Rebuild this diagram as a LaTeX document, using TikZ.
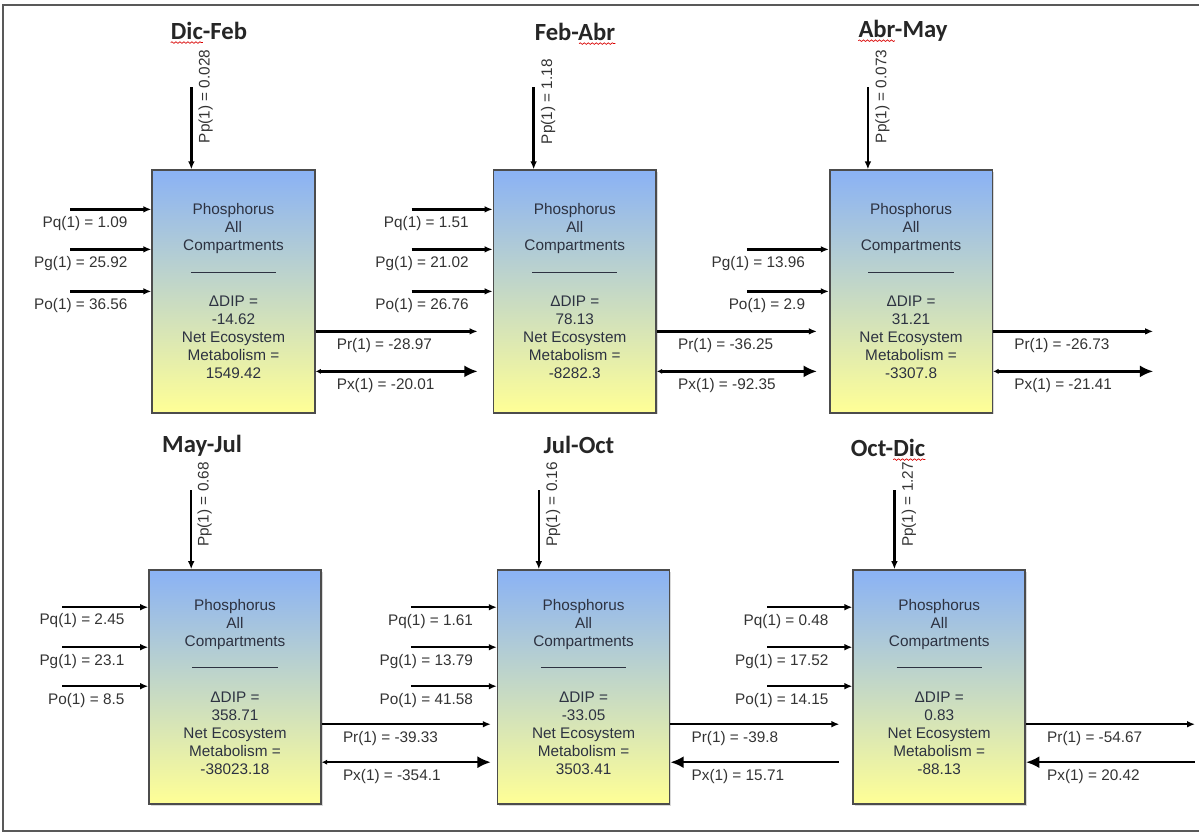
\documentclass[tikz,border=0pt]{standalone}
\usepackage{fontspec}
\setmainfont{Liberation Sans}
\newfontfamily\titlefont{Carlito}
\usetikzlibrary{positioning, arrows.meta, calc, shadows, decorations.pathmorphing}
\definecolor{boxblue}{RGB}{138,178,245}
\definecolor{boxyellow}{RGB}{255,255,150}
\definecolor{boxtext}{RGB}{45,50,65}

\begin{document}
\begin{tikzpicture}[
        x=0.75pt, y=-0.75pt,
        comp/.style  = {draw=black!70, line width=1.2pt, top color=boxblue, bottom color=boxyellow, minimum width=122pt, minimum height=182pt, align=center, inner sep=0pt, text=boxtext, font=\fontsize{11.5}{13.5}\selectfont, drop shadow={shadow xshift=1.2pt, shadow yshift=-1.2pt, opacity=0.3}},
        compb/.style = {comp, minimum width=129pt, minimum height=175.5pt},
        period/.style= {font=\titlefont\bfseries\fontsize{18.5}{20}\selectfont, inner sep=0pt, text=black!85},
        lbl/.style   = {font=\fontsize{11.5}{13.5}\selectfont, text=black!80, inner sep=0pt},
        inl/.style   = {lbl, anchor=north east, xshift=-17pt, yshift=-4.5pt},
        outl/.style  = {lbl, pos=0, anchor=north west, xshift=15pt, yshift=-4.5pt},
        ppl/.style   = {lbl, rotate=90, anchor=north west},
        arrow/.style = {-{Latex[length=6pt, width=5pt]}, line width=1.8pt},
        bigarrow/.style  = {{Latex[length=4pt, width=4pt]}-{Latex[length=10pt, width=9pt]}, line width=1.8pt},
        backarrow/.style = {{Latex[length=10pt, width=9pt]}-, line width=1.8pt},
        spell/.style = {draw=red!85!black, line width=0.5pt, decorate, decoration={snake, amplitude=0.6pt, segment length=3pt}},
        frame/.style = {draw=black!65, line width=1.2pt},
    ]
        \useasboundingbox (0,0) rectangle (1199,833);
        \draw[frame] (3,5) rectangle (1210,831);

        % Compartments, top row
        \node[comp] (df) at (233.5,291.5) {Phosphorus\\All\\Compartments\\[3pt]\rule{64pt}{0.8pt}\\[12pt]ΔDIP =\\-14.62\\Net Ecosystem\\Metabolism =\\1549.42};
        \node[comp, right=132.75pt of df] (fa) {Phosphorus\\All\\Compartments\\[3pt]\rule{64pt}{0.8pt}\\[12pt]ΔDIP =\\78.13\\Net Ecosystem\\Metabolism =\\-8282.3};
        \node[comp, right=129pt of fa] (am) {Phosphorus\\All\\Compartments\\[3pt]\rule{64pt}{0.8pt}\\[12pt]ΔDIP =\\31.21\\Net Ecosystem\\Metabolism =\\-3307.8};
        % Compartments, bottom row
        \node[compb] (mj) at (235,687) {Phosphorus\\All\\Compartments\\[3pt]\rule{64pt}{0.8pt}\\[12pt]ΔDIP =\\358.71\\Net Ecosystem\\Metabolism =\\-38023.18};
        \node[compb, right=131.25pt of mj] (jo) {Phosphorus\\All\\Compartments\\[3pt]\rule{64pt}{0.8pt}\\[12pt]ΔDIP =\\-33.05\\Net Ecosystem\\Metabolism =\\3503.41};
        \node[compb, right=136.5pt of jo] (od) {Phosphorus\\All\\Compartments\\[3pt]\rule{64pt}{0.8pt}\\[12pt]ΔDIP =\\0.83\\Net Ecosystem\\Metabolism =\\-88.13};

        % Periods
        \node[period] (tdf) at (209,31) {Dic-Feb};
        \node[period] (tfa) at (575,32) {Feb-Abr};
        \node[period] (tam) at (903,31) {Abr-May};
        \node[period] (tmj) at (202,446) {May-Jul};
        \node[period] (tjo) at (579,445) {Jul-Oct};
        \node[period] (tod) at (888,448) {Oct-Dic};
        \draw[spell] ($(tdf.base west)+(0,3)$) -- ($(tdf.base west)!0.42!(tdf.base east)+(0,3)$);
        \draw[spell] ($(tfa.base west)!0.55!(tfa.base east)+(0,3)$) -- ($(tfa.base east)+(0,3)$);
        \draw[spell] ($(tam.base west)+(0,3)$) -- ($(tam.base west)!0.41!(tam.base east)+(0,3)$);
        \draw[spell] ($(tod.base west)!0.57!(tod.base east)+(0,3)$) -- ($(tod.base east)+(0,3)$);

        % Precipitation
        \coordinate (pdf) at ($(df.north west)+(40,-82)$);
        \coordinate (pfa) at ($(fa.north west)+(41,-82)$);
        \coordinate (pam) at ($(am.north west)+(39,-82)$);
        \coordinate (pmj) at ($(mj.north west)+(43,-79)$);
        \coordinate (pjo) at ($(jo.north west)+(42,-79)$);
        \coordinate (pod) at ($(od.north west)+(42,-79)$);
        \draw[arrow] (pdf) -- (pdf |- df.north);
        \draw[arrow] (pfa) -- (pfa |- fa.north);
        \draw[arrow] (pam) -- (pam |- am.north);
        \draw[arrow] (pmj) -- (pmj |- mj.north);
        \draw[arrow] (pjo) -- (pjo |- jo.north);
        \draw[arrow] (pod) -- (pod |- od.north);
        \node[ppl] (lpdf) at ($(pdf)+(7,56)$) {Pp(1) = 0.028};
        \node[ppl] (lpfa) at ($(pfa)+(7,57)$) {Pp(1) = 1.18};
        \node[ppl] (lpam) at ($(pam)+(7,56)$) {Pp(1) = 0.073};
        \node[ppl] (lpmj) at ($(pmj)+(6,57)$) {Pp(1) = 0.68};
        \node[ppl] (lpjo) at ($(pjo)+(7,57)$) {Pp(1) = 0.16};
        \node[ppl] (lpod) at ($(pod)+(7,57)$) {Pp(1) = 1.27};

        % Inflows, top row
        \coordinate (qdf) at ($(df.north west)+(-81,40)$);
        \coordinate (gdf) at ($(df.north west)+(-81,80)$);
        \coordinate (odf) at ($(df.north west)+(-81,122)$);
        \coordinate (qfa) at ($(fa.north west)+(-81,40)$);
        \coordinate (gfa) at ($(fa.north west)+(-81,80)$);
        \coordinate (ofa) at ($(fa.north west)+(-81,122)$);
        \coordinate (gam) at ($(am.north west)+(-82,80)$);
        \coordinate (oam) at ($(am.north west)+(-82,122)$);
        \draw[arrow] (qdf) -- (qdf -| df.west) node[inl] (lqdf) {Pq(1) = 1.09};
        \draw[arrow] (gdf) -- (gdf -| df.west) node[inl] (lgdf) {Pg(1) = 25.92};
        \draw[arrow] (odf) -- (odf -| df.west) node[inl] (lodf) {Po(1) = 36.56};
        \draw[arrow] (qfa) -- (qfa -| fa.west) node[inl] (lqfa) {Pq(1) = 1.51};
        \draw[arrow] (gfa) -- (gfa -| fa.west) node[inl] (lgfa) {Pg(1) = 21.02};
        \draw[arrow] (ofa) -- (ofa -| fa.west) node[inl] (lofa) {Po(1) = 26.76};
        \draw[arrow] (gam) -- (gam -| am.west) node[inl] (lgam) {Pg(1) = 13.96};
        \draw[arrow] (oam) -- (oam -| am.west) node[inl] (loam) {Po(1) = 2.9};
        % Inflows, bottom row
        \coordinate (qmj) at ($(mj.north west)+(-86,38)$);
        \coordinate (gmj) at ($(mj.north west)+(-86,78)$);
        \coordinate (omj) at ($(mj.north west)+(-86,117)$);
        \coordinate (qjo) at ($(jo.north west)+(-86,38)$);
        \coordinate (gjo) at ($(jo.north west)+(-86,78)$);
        \coordinate (ojo) at ($(jo.north west)+(-86,117)$);
        \coordinate (qod) at ($(od.north west)+(-85,38)$);
        \coordinate (god) at ($(od.north west)+(-85,78)$);
        \coordinate (ood) at ($(od.north west)+(-85,117)$);
        \draw[arrow] (qmj) -- (qmj -| mj.west) node[inl, yshift=0.8pt] (lqmj) {Pq(1) = 2.45};
        \draw[arrow] (gmj) -- (gmj -| mj.west) node[inl] (lgmj) {Pg(1) = 23.1};
        \draw[arrow] (omj) -- (omj -| mj.west) node[inl] (lomj) {Po(1) = 8.5};
        \draw[arrow] (qjo) -- (qjo -| jo.west) node[inl] (lqjo) {Pq(1) = 1.61};
        \draw[arrow] (gjo) -- (gjo -| jo.west) node[inl] (lgjo) {Pg(1) = 13.79};
        \draw[arrow] (ojo) -- (ojo -| jo.west) node[inl] (lojo) {Po(1) = 41.58};
        \draw[arrow] (qod) -- (qod -| od.west) node[inl] (lqod) {Pq(1) = 0.48};
        \draw[arrow] (god) -- (god -| od.west) node[inl] (lgod) {Pg(1) = 17.52};
        \draw[arrow] (ood) -- (ood -| od.west) node[inl] (lood) {Po(1) = 14.15};

        % Outflows, top row
        \coordinate (rdf) at ($(df.north east)+(0,162)$);
        \coordinate (xdf) at ($(df.north east)+(0,202)$);
        \coordinate (rfa) at ($(fa.north east)+(0,162)$);
        \coordinate (xfa) at ($(fa.north east)+(0,202)$);
        \coordinate (ram) at ($(am.north east)+(0,162)$);
        \coordinate (xam) at ($(am.north east)+(0,202)$);
        \draw[arrow] (rdf) -- ($(rdf -| fa.west)+(-15,0)$) node[outl] (lrdf) {Pr(1) = -28.97};
        \draw[bigarrow] (xdf) -- ($(xdf -| fa.west)+(-15,0)$) node[outl] (lxdf) {Px(1) = -20.01};
        \draw[arrow] (rfa) -- ($(rfa -| am.west)+(-12,0)$) node[outl] (lrfa) {Pr(1) = -36.25};
        \draw[bigarrow] (xfa) -- ($(xfa -| am.west)+(-12,0)$) node[outl] (lxfa) {Px(1) = -92.35};
        \draw[arrow] (ram) -- ($(ram)+(160,0)$) node[outl] (lram) {Pr(1) = -26.73};
        \draw[bigarrow] (xam) -- ($(xam)+(160,0)$) node[outl] (lxam) {Px(1) = -21.41};
        % Outflows, bottom row
        \coordinate (rmj) at ($(mj.north east)+(0,155)$);
        \coordinate (xmj) at ($(mj.north east)+(0,193)$);
        \coordinate (rjo) at ($(jo.north east)+(0,155)$);
        \coordinate (xjo) at ($(jo.north east)+(0,193)$);
        \coordinate (rod) at ($(od.north east)+(0,155)$);
        \coordinate (xod) at ($(od.north east)+(0,193)$);
        \draw[arrow] (rmj) -- ($(rmj -| jo.west)+(-6,0)$) node[outl] (lrmj) {Pr(1) = -39.33};
        \draw[bigarrow] (xmj) -- ($(xmj -| jo.west)+(-6,0)$) node[outl] (lxmj) {Px(1) = -354.1};
        \draw[arrow] (rjo) -- ($(rjo -| od.west)+(-13,0)$) node[outl] (lrjo) {Pr(1) = -39.8};
        \draw[backarrow] (xjo) -- ($(xjo -| od.west)+(-13,0)$) node[outl] (lxjo) {Px(1) = 15.71};
        \draw[arrow] (rod) -- ($(rod)+(169,0)$) node[outl] (lrod) {Pr(1) = -54.67};
        \draw[backarrow] (xod) -- ($(xod)+(169,0)$) node[outl] (lxod) {Px(1) = 20.42};
    \end{tikzpicture}
\end{document}
